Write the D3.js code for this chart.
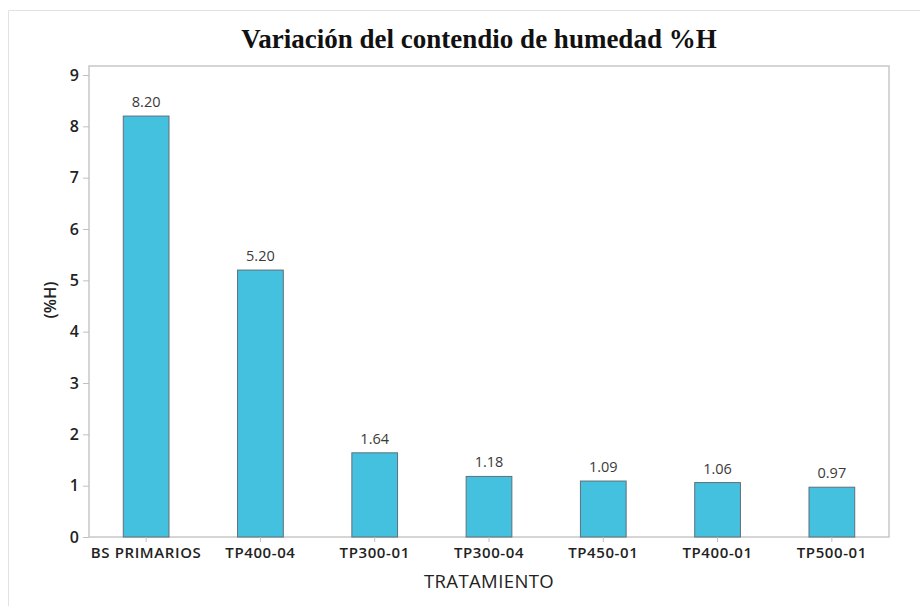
<!DOCTYPE html>
<html><head><meta charset="utf-8">
<script src="https://cdn.jsdelivr.net/npm/d3@7"></script>
<style>body{margin:0;background:#fff}svg{display:block}</style>
</head><body><svg id="c" width="920" height="606"></svg>
<script>
const categories = ["BS PRIMARIOS","TP400-04","TP300-01","TP300-04","TP450-01","TP400-01","TP500-01"];
const values = [8.20, 5.20, 1.64, 1.18, 1.09, 1.06, 0.97];
const yTicks = [0,1,2,3,4,5,6,7,8,9];
const title = "Variación del contendio de humedad %H";
const xTitle = "TRATAMIENTO";
const yTitle = "(%H)";

const svg = d3.select("#c");
const L = 89, R = 889, T = 66, B = 537;
const font = "'Open Sans','Noto Sans',sans-serif";

// outer border (top + left)
svg.append("path").attr("d","M8.5,606 V10.5 H920").attr("fill","none").attr("stroke","#e2e2e2");

const x = d3.scaleBand().domain(categories).range([L,R]).paddingInner(0.6).paddingOuter(0.3);
const y = d3.scaleLinear().domain([0, 9*(B-T)/(B-75)]).range([B,T]);

svg.append("text").attr("x",479).attr("y",47.5).attr("text-anchor","middle")
  .attr("font-family","'Liberation Serif','Times New Roman',serif").attr("font-weight","bold")
  .attr("font-size",27).attr("fill","#111").text(title);

// frame
svg.append("rect").attr("x",L).attr("y",T).attr("width",R-L).attr("height",B-T)
  .attr("fill","none").attr("stroke","#c8c8c8").attr("stroke-width",1.5);

// bars
svg.selectAll("rect.bar").data(values).enter().append("rect").attr("class","bar")
  .attr("x",(d,i)=>x(categories[i])).attr("width",x.bandwidth())
  .attr("y",d=>y(d)).attr("height",d=>y(0)-y(d))
  .attr("fill","#45c1e0").attr("stroke","#5f6f78").attr("stroke-width",1);

svg.selectAll("text.val").data(values).enter().append("text").attr("class","val")
  .attr("x",(d,i)=>x(categories[i])+x.bandwidth()/2).attr("y",d=>y(d)-9)
  .attr("text-anchor","middle").attr("font-family",font).attr("font-size",14.5)
  .attr("fill","#3a3a3a").text(d=>d.toFixed(2));

// y axis
const ya = svg.append("g").attr("transform",`translate(${L},0)`)
  .call(d3.axisLeft(y).tickValues(yTicks).tickSize(6).tickPadding(4).tickFormat(d3.format("d")));
ya.select(".domain").remove();
ya.selectAll("line").attr("stroke","#c0c0c0");
ya.selectAll("text").attr("font-family",font).attr("font-size",16).attr("font-weight",600).attr("fill","#222");

// x axis
const xa = svg.append("g").attr("transform",`translate(0,${B})`)
  .call(d3.axisBottom(x).tickSize(5).tickPadding(5));
xa.select(".domain").remove();
xa.selectAll("line").attr("stroke","#c0c0c0");
xa.selectAll("text").attr("font-family",font).attr("font-size",15).attr("font-weight",600)
  .attr("letter-spacing",0.6).attr("fill","#222");

svg.append("text").attr("x",489).attr("y",588).attr("text-anchor","middle")
  .attr("font-family",font).attr("font-size",18.5).attr("letter-spacing",0.4).attr("fill","#222").text(xTitle);
svg.append("text").attr("transform","translate(56,300) rotate(-90)").attr("text-anchor","middle")
  .attr("font-family",font).attr("font-size",16.5).attr("font-weight",600).attr("fill","#222").text(yTitle);
</script></body></html>
